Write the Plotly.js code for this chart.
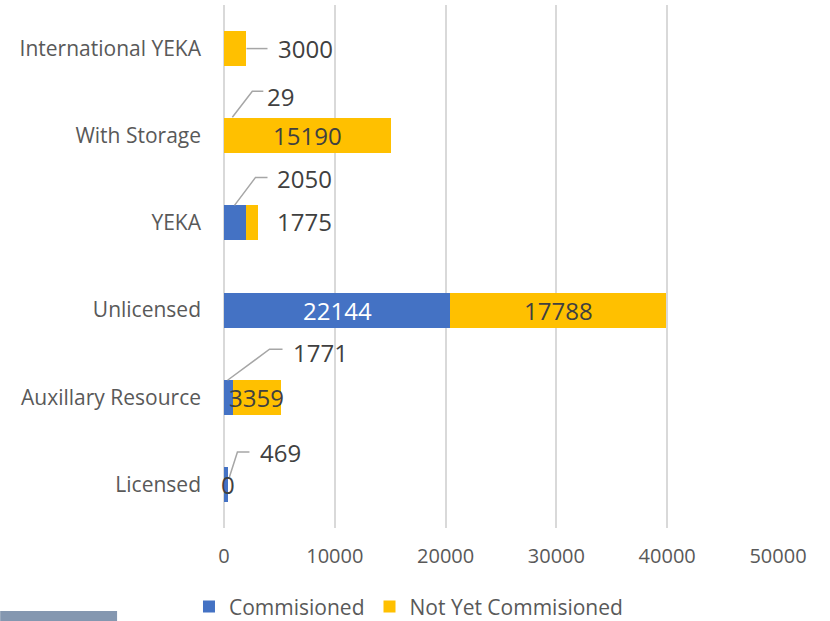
<!DOCTYPE html>
<html>
<head>
<meta charset="utf-8">
<script src="https://cdn.plot.ly/plotly-3.0.1.min.js"></script>
<style>html,body{margin:0;padding:0;background:#fff;}#chart{width:830px;height:621px;}</style>
</head>
<body>
<div id="chart"></div>
<script>
var categories = ['Licensed', 'Auxillary Resource', 'Unlicensed', 'YEKA', 'With Storage', 'International YEKA'];
var commissioned = [400, 770, 20440, 1940, 29, 0];
var notYetCommissioned = [0, 4330, 19470, 1110, 15030, 1940];
var commissionedLabels = ['469', '1771', '22144', '2050', '29', ''];
var notYetLabels = ['0', '3359', '17788', '1775', '15190', '3000'];
var xTickValues = [0, 10000, 20000, 30000, 40000, 50000];
var seriesNames = ['Commisioned', 'Not Yet Commisioned'];

// ---- label placement (style only) ----
// mode 'in' = centred in the segment; 'out' = offset in px from segment end, with optional leader path (px, y up)
var comPlace = [
  {mode: 'out', dx: 30, dy: 31.5, leader: 'M1,7.5 L9,32.5 L21,32.5'},
  {mode: 'out', dx: 58, dy: 45, leader: 'M-5,17 L37,48 L50,48'},
  {mode: 'in', color: '#ffffff'},
  {mode: 'out', dx: 29, dy: 44.5, leader: 'M-11,17.5 L10,45.5 L22,45.5'},
  {mode: 'out', dx: 41, dy: 39.5, leader: 'M8,18.5 L28,44.5 L39,44.5'},
  null
];
var notPlace = [
  {mode: 'in', color: '#404040'},
  {mode: 'in', color: '#404040'},
  {mode: 'in', color: '#404040'},
  {mode: 'out', dx: 17, dy: 1, leader: null},
  {mode: 'in', color: '#404040'},
  {mode: 'out', dx: 30, dy: 0, leader: 'M1,0 L22,0'}
];

var FONT = 'Open Sans, Liberation Sans, sans-serif';
var BLUE = '#4472C4', YELLOW = '#FFC000';

var traces = [
  {type: 'bar', orientation: 'h', name: seriesNames[0], y: categories, x: commissioned,
   marker: {color: BLUE}, hoverinfo: 'x+y'},
  {type: 'bar', orientation: 'h', name: seriesNames[1], y: categories, x: notYetCommissioned,
   marker: {color: YELLOW}, hoverinfo: 'x+y'}
];

var annotations = [];
var shapes = [];
function addLabel(i, text, start, val, place) {
  if (!place || text === '') return;
  var end = start + val;
  if (place.mode === 'in') {
    annotations.push({x: start + val / 2, y: categories[i], xref: 'x', yref: 'y', text: text,
      showarrow: false, xanchor: 'center', yanchor: 'middle',
      font: {family: FONT, size: 24, color: place.color}});
  } else {
    annotations.push({x: end, y: categories[i], xref: 'x', yref: 'y', text: text,
      showarrow: false, xanchor: 'left', yanchor: 'middle', xshift: place.dx, yshift: place.dy,
      font: {family: FONT, size: 24, color: '#404040'}});
    if (place.leader) {
      shapes.push({type: 'path', xref: 'x', yref: 'y', xsizemode: 'pixel', ysizemode: 'pixel',
        xanchor: end, yanchor: i, path: place.leader,
        line: {color: '#A6A6A6', width: 1.5}});
    }
  }
}
for (var i = 0; i < categories.length; i++) {
  addLabel(i, commissionedLabels[i], 0, commissioned[i], comPlace[i]);
  addLabel(i, notYetLabels[i], commissioned[i], notYetCommissioned[i], notPlace[i]);
}
// decorative bar in bottom-left corner of the original image
shapes.push({type: 'rect', xref: 'paper', yref: 'paper', x0: -0.404, x1: -0.193, y0: -0.19, y1: -0.1587,
  fillcolor: '#8497B0', line: {width: 0}, layer: 'above'});

var layout = {
  width: 830, height: 621,
  margin: {l: 224, r: 52, t: 5, b: 93, pad: 0, autoexpand: false},
  paper_bgcolor: '#ffffff', plot_bgcolor: '#ffffff',
  barmode: 'stack', bargap: 0.6,
  font: {family: FONT, color: '#595959'},
  xaxis: {range: [0, 50000], tickvals: xTickValues, ticktext: xTickValues.map(String),
    showgrid: true, gridcolor: '#D9D9D9', gridwidth: 2,
    zeroline: true, zerolinecolor: '#D9D9D9', zerolinewidth: 2, showline: false,
    ticks: '', ticklabelstandoff: 14, tickfont: {family: FONT, size: 20, color: '#595959'}, fixedrange: true},
  yaxis: {type: 'category', categoryorder: 'array', categoryarray: categories,
    showgrid: false, zeroline: false, showline: false, ticks: '', ticklabelstandoff: 22,
    tickfont: {family: FONT, size: 21, color: '#595959'}, fixedrange: true},
  showlegend: true,
  legend: {orientation: 'h', x: -0.0632, xanchor: 'left', y: -0.151, yanchor: 'middle',
    font: {family: FONT, size: 21, color: '#595959'}, itemwidth: 30, traceorder: 'normal',
    bgcolor: 'rgba(0,0,0,0)'},
  annotations: annotations,
  shapes: shapes
};

Plotly.newPlot('chart', traces, layout, {displayModeBar: false, staticPlot: true});
</script>
</body>
</html>
